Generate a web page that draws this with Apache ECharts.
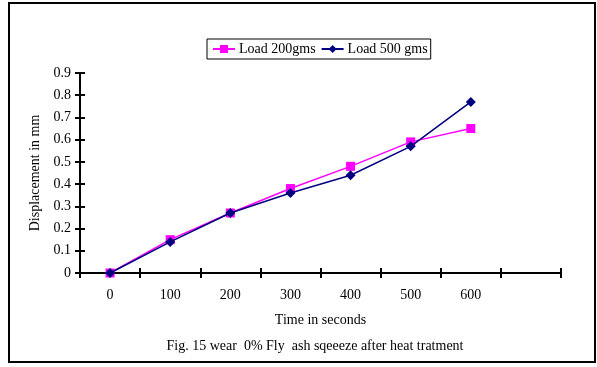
<!DOCTYPE html>
<html><head><meta charset="utf-8">
<script src="https://cdn.jsdelivr.net/npm/echarts@6/dist/echarts.min.js"></script>
<style>html,body{margin:0;padding:0;background:#fff}#c{width:597px;height:367px}</style>
</head><body><div id="c"></div>
<script>
var categories = ['0','100','200','300','400','500','600',''];
var load200 = [0, 0.15, 0.27, 0.38, 0.48, 0.59, 0.65];
var load500 = [0, 0.14, 0.27, 0.36, 0.44, 0.57, 0.77];
var yTicks = {min: 0, max: 0.9, interval: 0.1};
var F = 'Liberation Serif, Times New Roman, serif';
var chart = echarts.init(document.getElementById('c'));
var axisLineStyle = {color: '#000', width: 2};
chart.setOption({
  animation: false,
  backgroundColor: '#fff',
  textStyle: {fontFamily: F},
  graphic: [{type: 'rect', shape: {x: 9, y: 3, width: 586, height: 359}, style: {fill: 'none', stroke: '#000', lineWidth: 2}, silent: true}],
  title: {text: 'Fig. 15 wear  0% Fly  ash sqeeeze after heat tratment', left: 310, textAlign: 'center', top: 334,
    textStyle: {fontFamily: F, fontSize: 14, fontWeight: 'normal', color: '#000'}},
  legend: {left: 207, top: 39, padding: [3, 3, 3, 5], itemGap: 5, itemWidth: 22, itemHeight: 10,
    borderColor: '#000', borderWidth: 1,
    textStyle: {fontFamily: F, fontSize: 14, color: '#000', padding: [0, 0, 0, -1]},
    data: ['Load 200gms', 'Load 500 gms']},
  grid: {left: 80, right: 36, top: 73, bottom: 94},
  xAxis: [{type: 'category', data: categories, boundaryGap: true,
    name: 'Time in seconds', nameLocation: 'middle', nameGap: 40,
    nameTextStyle: {fontFamily: F, fontSize: 14, color: '#000'},
    axisLine: {lineStyle: axisLineStyle},
    axisTick: {show: true, length: 5, lineStyle: {color: '#000', width: 2}},
    axisLabel: {fontFamily: F, fontSize: 14, color: '#000', margin: 15},
    splitLine: {show: false}},
   {type: 'category', data: categories, boundaryGap: true, position: 'bottom',
    axisLine: {show: false}, axisLabel: {show: false},
    axisTick: {show: true, inside: true, length: 5, lineStyle: {color: '#000', width: 2}}}],
  yAxis: [{type: 'value', min: yTicks.min, max: yTicks.max, interval: yTicks.interval,
    name: 'Displacement in mm', nameLocation: 'middle', nameGap: 31,
    nameTextStyle: {fontFamily: F, fontSize: 14, color: '#000'},
    axisLine: {show: true, lineStyle: axisLineStyle},
    axisTick: {show: true, length: 5, lineStyle: {color: '#000', width: 2}},
    axisLabel: {fontFamily: F, fontSize: 14, color: '#000', margin: 9},
    splitLine: {show: false}},
   {type: 'value', min: yTicks.min, max: yTicks.max, interval: yTicks.interval, position: 'left',
    axisLine: {show: false}, axisLabel: {show: false}, splitLine: {show: false},
    axisTick: {show: true, inside: true, length: 5, lineStyle: {color: '#000', width: 2}}}],
  series: [
    {name: 'Load 200gms', type: 'line', data: load200, symbol: 'rect', symbolSize: 9,
      lineStyle: {color: '#FF00FF', width: 1.5}, itemStyle: {color: '#FF00FF'}, z: 2},
    {name: 'Load 500 gms', type: 'line', data: load500, symbol: 'diamond', symbolSize: 10,
      lineStyle: {color: '#000080', width: 1.5}, itemStyle: {color: '#000080'}, z: 3}
  ]
});
</script></body></html>
